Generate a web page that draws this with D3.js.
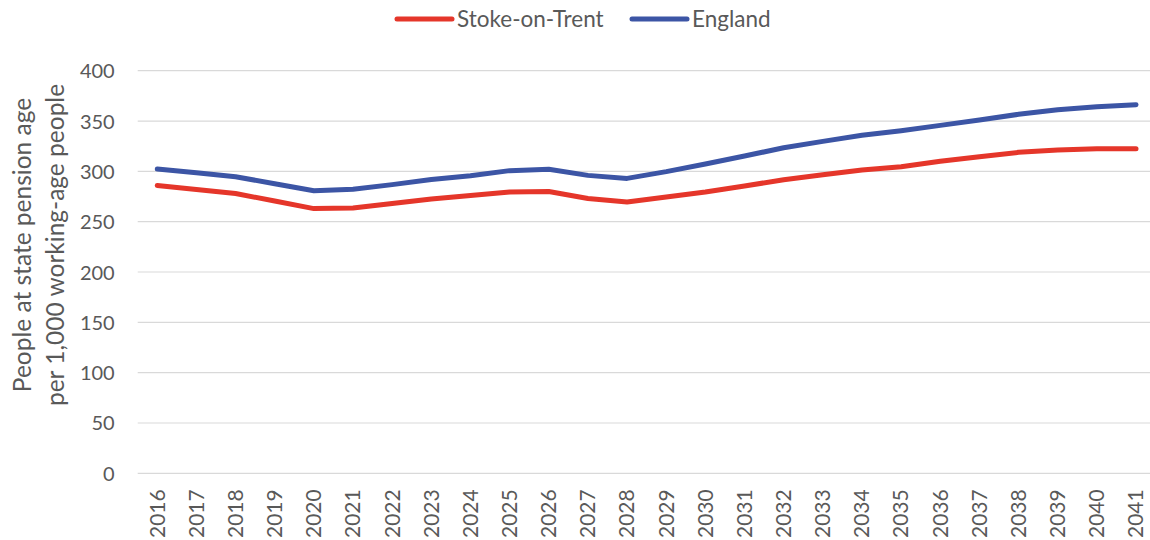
<!DOCTYPE html>
<html>
<head>
<meta charset="utf-8">
<script src="https://cdn.jsdelivr.net/npm/d3@7"></script>
<style>
  html, body { margin: 0; padding: 0; background: #fff; }
  svg { display: block; font-family: Lato, "Open Sans", sans-serif; }
</style>
</head>
<body>
<svg id="chart" width="1150" height="540"></svg>
<script>
// Old-age dependency ratio: people at state pension age per 1,000 working-age people
const years = ["2016","2017","2018","2019","2020","2021","2022","2023","2024","2025","2026","2027","2028",
               "2029","2030","2031","2032","2033","2034","2035","2036","2037","2038","2039","2040","2041"];
const stokeOnTrent = [286, 282, 278, 270.5, 263, 263.6, 268, 272.5, 276, 279.5, 280, 273, 269.5,
                      274.5, 279.5, 285.4, 291.7, 296.7, 301.3, 304.6, 310, 314.6, 318.9, 321.2, 322.5, 322.5];
const england = [302.3, 298.7, 294.7, 287.7, 280.8, 282.2, 286.8, 292, 295.7, 300.7, 302, 296, 293,
                 299.7, 307.3, 315.2, 323.5, 329.8, 335.8, 340.4, 345.7, 351, 356.7, 361.3, 364.2, 366.2];
const yTicks = [0, 50, 100, 150, 200, 250, 300, 350, 400];
const seriesNames = ["Stoke-on-Trent", "England"];
const seriesColors = ["#E5362A", "#3C55A5"];

const svg = d3.select("#chart");
const plotLeft = 137.7, band = 39.15, plotTop = 70.7, plotBottom = 473.3;

const x = d3.scaleBand().domain(years).range([plotLeft, plotLeft + band * years.length]).padding(0);
const y = d3.scaleLinear().domain([0, 400]).range([plotBottom, plotTop]);
const cx = d => x(d) + x.bandwidth() / 2;

// gridlines
svg.append("g")
  .selectAll("line")
  .data(yTicks)
  .join("line")
  .attr("x1", plotLeft).attr("x2", 1150)
  .attr("y1", d => y(d)).attr("y2", d => y(d))
  .attr("stroke", "#d9d9d9").attr("stroke-width", 1.2);

// y axis labels
const yAxis = d3.axisLeft(y).tickValues(yTicks).tickSize(0).tickPadding(0);
const gy = svg.append("g").attr("transform", `translate(${plotLeft - 23},0)`).call(yAxis);
gy.select(".domain").remove();
gy.selectAll("text").attr("fill", "#595959").style("font-size", "20px")
  .style("font-family", "Lato, 'Open Sans', sans-serif").attr("dy", "0.35em");

// x axis labels (rotated)
const xAxis = d3.axisBottom(x).tickSize(0).tickPadding(0);
const gx = svg.append("g").attr("transform", `translate(0,${plotBottom})`).call(xAxis);
gx.select(".domain").remove();
gx.selectAll("text")
  .attr("fill", "#595959").style("font-size", "21px")
  .style("font-family", "Lato, 'Open Sans', sans-serif")
  .attr("text-anchor", "end")
  .attr("transform", "rotate(-90)")
  .attr("x", -16).attr("y", 0).attr("dy", "0.35em");

// y axis title
const title = svg.append("text")
  .attr("transform", "translate(39,245) rotate(-90)")
  .attr("text-anchor", "middle")
  .attr("fill", "#595959").style("font-size", "24.5px");
title.append("tspan").attr("x", 0).attr("y", -8).text("People at state pension age");
title.append("tspan").attr("x", 0).attr("y", 25).text("per 1,000 working-age people");

// series lines
const line = d3.line().x((d, i) => cx(years[i])).y(d => y(d));
[stokeOnTrent, england].forEach((vals, k) => {
  svg.append("path")
    .datum(vals)
    .attr("d", line)
    .attr("fill", "none")
    .attr("stroke", seriesColors[k])
    .attr("stroke-width", 5)
    .attr("stroke-linejoin", "round")
    .attr("stroke-linecap", "round");
});

// legend
const legendX = [397, 632];
const legend = svg.append("g");
seriesNames.forEach((name, k) => {
  legend.append("line")
    .attr("x1", legendX[k]).attr("x2", legendX[k] + 55)
    .attr("y1", 19).attr("y2", 19)
    .attr("stroke", seriesColors[k]).attr("stroke-width", 5)
    .attr("stroke-linecap", "round");
  legend.append("text")
    .attr("x", legendX[k] + 60).attr("y", 19).attr("dy", "0.35em")
    .attr("fill", "#595959").style("font-size", "22.5px")
    .text(name);
});
</script>
</body>
</html>
